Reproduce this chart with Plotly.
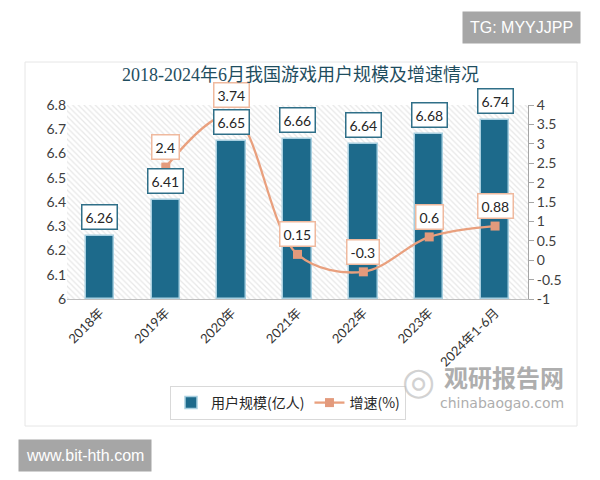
import plotly.graph_objects as go

categories = ["2018年", "2019年", "2020年", "2021年", "2022年", "2023年", "2024年1-6月"]
users = [6.26, 6.41, 6.65, 6.66, 6.64, 6.68, 6.74]
growth = [None, 2.4, 3.74, 0.15, -0.3, 0.6, 0.88]
left_ticks = [6, 6.1, 6.2, 6.3, 6.4, 6.5, 6.6, 6.7, 6.8]
right_ticks = [-1, -0.5, 0, 0.5, 1, 1.5, 2, 2.5, 3, 3.5, 4]

W, H = 600, 480
L, R, T, B = 67, 528, 105, 299


def px(x):
    return (x - L) / (R - L)


def py(y):
    return (B - y) / (B - T)


BAR_C = "#1d6a8b"
LINE_C = "#e9a07e"
NUM_FONT = "Lato, Noto Sans, Noto Sans CJK SC, sans-serif"
CJK_FONT = "Noto Sans CJK SC, sans-serif"

fig = go.Figure()

# hatched plot background
fig.add_trace(go.Bar(
    x=categories, y=[left_ticks[-1] - left_ticks[0]] * len(categories), base=left_ticks[0],
    width=1.0, marker=dict(color="rgba(255,255,255,0)", line=dict(width=0),
                           pattern=dict(shape="\\", fgcolor="#cfcfcf", bgcolor="#ffffff",
                                        size=4, solidity=0.3)),
    showlegend=False, hoverinfo="skip"))

fig.add_trace(go.Bar(
    x=categories, y=[u - left_ticks[0] for u in users], base=left_ticks[0], width=0.43,
    name="用户规模(亿人)",
    marker=dict(color=BAR_C, line=dict(color="#a8cfe0", width=1.5)),
))

fig.add_trace(go.Scatter(
    x=categories, y=growth, yaxis="y2", name="增速(%)", mode="lines+markers",
    line=dict(color=LINE_C, width=2.3, shape="spline"),
    marker=dict(symbol="square", size=9, color="#e39a7c"),
    connectgaps=False,
))

annotations = []
for c, v in zip(categories, users):
    annotations.append(dict(
        x=c, y=v, xref="x", yref="y", text=f"{v:.2f}", showarrow=False, yshift=19,
        font=dict(family=NUM_FONT, size=14, color="#262626"),
        bgcolor="white", bordercolor="#2f6f88", borderwidth=1.5, borderpad=3))
for c, g in zip(categories, growth):
    if g is None:
        continue
    annotations.append(dict(
        x=c, y=g, xref="x", yref="y2", text=f"{g:g}", showarrow=False, yshift=20,
        font=dict(family=NUM_FONT, size=14, color="#262626"),
        bgcolor="white", bordercolor="#efb99e", borderwidth=1.5, borderpad=3))


def page_text(x, y, text, font, **kw):
    d = dict(x=px(x), y=py(y), xref="paper", yref="paper", showarrow=False, text=text,
             xanchor="center", yanchor="middle", font=font)
    d.update(kw)
    annotations.append(d)


# title
page_text(300, 75, "2018-2024年6月我国游戏用户规模及增速情况",
          dict(family="Liberation Serif, Noto Sans CJK SC, serif", size=18, color="#1f4e5f"))

# watermark boxes
page_text(521, 27, "TG: MYYJJPP",
          dict(family="Liberation Sans, sans-serif", size=16, color="white"),
          bgcolor="#a6a6a6", borderpad=7)
page_text(85, 455, "www.bit-hth.com",
          dict(family="Liberation Sans, sans-serif", size=16, color="white"),
          bgcolor="#a6a6a6", borderpad=7)

# logo watermark
page_text(504, 376, "<b>观研报告网</b>",
          dict(family=CJK_FONT, size=24, color="#9a9a9a"), opacity=0.8)
page_text(502, 403, "chinabaogao.com",
          dict(family="DejaVu Sans, sans-serif", size=14, color="#9a9a9a"), opacity=0.8)
page_text(418, 381, "◎",
          dict(family="DejaVu Sans, sans-serif", size=38, color="#c0c0c0"), opacity=0.7)

shapes = [dict(type="rect", xref="paper", yref="paper",
               x0=px(25), x1=px(577), y0=py(426), y1=py(62),
               line=dict(color="#e6e6e6", width=1), fillcolor="rgba(0,0,0,0)", layer="below")]

fig.update_layout(
    width=W, height=H,
    margin=dict(l=L, r=W - R, t=T, b=H - B),
    paper_bgcolor="white", plot_bgcolor="white",
    barmode="overlay", bargap=0,
    showlegend=True,
    legend=dict(orientation="h", x=px(288), y=py(403), xanchor="center", yanchor="middle",
                bordercolor="#d9d9d9", borderwidth=1, bgcolor="white",
                font=dict(family=CJK_FONT, size=14, color="#262626"),
                traceorder="normal", itemwidth=30),
    xaxis=dict(type="category", tickangle=-45, showgrid=False, showline=True,
               linecolor="#bfbfbf", linewidth=1, ticks="",
               tickfont=dict(family=NUM_FONT + ", " + CJK_FONT, size=13, color="#333333"),
               range=[-0.5, len(categories) - 0.5]),
    yaxis=dict(range=[left_ticks[0], left_ticks[-1]], tickvals=left_ticks,
               ticktext=[f"{t:g}" for t in left_ticks], showgrid=False, showline=False,
               zeroline=False, ticks="", ticklen=0,
               tickfont=dict(family=NUM_FONT, size=14, color="#404040")),
    yaxis2=dict(range=[right_ticks[0], right_ticks[-1]], tickvals=right_ticks,
                ticktext=[f"{t:g}" for t in right_ticks], overlaying="y", side="right",
                showgrid=False, showline=True, linecolor="#a6a6a6", zeroline=False,
                ticks="outside", ticklen=5, tickcolor="#a6a6a6",
                tickfont=dict(family=NUM_FONT, size=14, color="#404040")),
    annotations=annotations,
    shapes=shapes,
)

fig.write_html("out.html")
